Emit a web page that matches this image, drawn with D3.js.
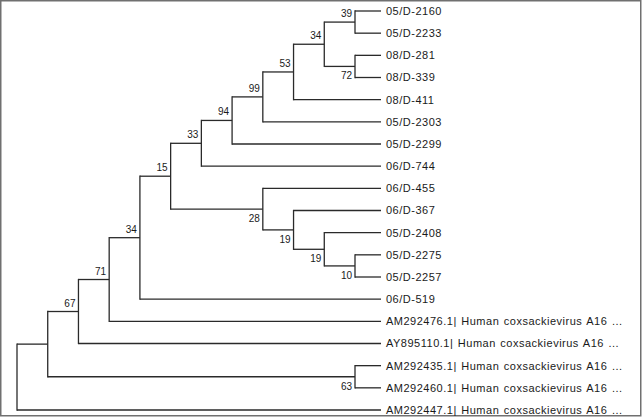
<!DOCTYPE html>
<html>
<head>
<meta charset="utf-8">
<script src="https://cdn.jsdelivr.net/npm/d3@7"></script>
<style>
  body { margin: 0; background: #fff; }
  text { font-family: "Liberation Sans", Arial, sans-serif; fill: #1a1a1a; }
</style>
</head>
<body>
<div id="container"></div>
<script>
// cladogram of CVA16 isolates with bootstrap values

// leaves, top to bottom, with the internal node they hang from
var leaves = ["05/D-2160", "05/D-2233", "08/D-281", "08/D-339", "08/D-411", "05/D-2303",
  "05/D-2299", "06/D-744", "06/D-455", "06/D-367", "05/D-2408", "05/D-2275", "05/D-2257",
  "06/D-519", "AM292476.1| Human coxsackievirus A16 ...", "AY895110.1| Human coxsackievirus A16 ...",
  "AM292435.1| Human coxsackievirus A16 ...", "AM292460.1| Human coxsackievirus A16 ...",
  "AM292447.1| Human coxsackievirus A16 ..."];
var leafParents = ["n39", "n39", "n72", "n72", "n53", "n99", "n94", "n33", "n28", "n19a",
  "n19b", "n10", "n10", "n34a", "n71", "n67", "n63", "n63", "root"];

// internal nodes, their parents and bootstrap support
var nodeIds     = ["root", "n1", "n67", "n71", "n34a", "n15", "n33", "n94", "n99", "n53", "n34b", "n39", "n72", "n28", "n19a", "n19b", "n10", "n63"];
var nodeParents = ["", "root", "n1", "n67", "n71", "n34a", "n15", "n33", "n94", "n99", "n53", "n34b", "n34b", "n15", "n28", "n19a", "n19b", "n1"];
var support     = [null, null, 67, 71, 34, 15, 33, 94, 99, 53, 34, 39, 72, 28, 19, 19, 10, 63];

var width = 642, height = 419;

var svg = d3.select("#container").append("svg")
    .attr("width", width)
    .attr("height", height);

// frame
svg.append("rect")
    .attr("x", 0.75).attr("y", 0.75)
    .attr("width", 640).attr("height", 415)
    .attr("fill", "none")
    .attr("stroke", "#707070")
    .attr("stroke-width", 1.5);

// build the table for stratify
var table = nodeIds.map(function(id, i) {
  return {id: id, parent: nodeParents[i] || null, support: support[i], leaf: false};
}).concat(leaves.map(function(name, i) {
  return {id: name, parent: leafParents[i], support: null, leaf: true, index: i};
}));

var root = d3.stratify()
    .id(function(d) { return d.id; })
    .parentId(function(d) { return d.parent; })(table);

// x from node height (cladogram), y from leaf order
var x = d3.scaleLinear().domain([root.height, 1]).range([17, 355]);
var leafX = x(1) + 26;
var y = d3.scalePoint().domain(leaves).range([11, 410]);

root.eachAfter(function(n) {
  if (!n.children) {
    n.px = leafX;
    n.py = y(n.id);
  } else {
    n.px = x(n.height);
    n.py = d3.mean(n.children, function(c) { return c.py; });
  }
});

var g = svg.append("g");

// horizontal branches
g.selectAll("line.h")
    .data(root.descendants().filter(function(n) { return n.parent; }))
  .enter().append("line")
    .attr("class", "h")
    .attr("x1", function(n) { return n.parent.px; })
    .attr("x2", function(n) { return n.px; })
    .attr("y1", function(n) { return n.py; })
    .attr("y2", function(n) { return n.py; })
    .attr("stroke", "#2a2a2a")
    .attr("stroke-width", 1.3);

// vertical connectors
g.selectAll("line.v")
    .data(root.descendants().filter(function(n) { return n.children; }))
  .enter().append("line")
    .attr("class", "v")
    .attr("x1", function(n) { return n.px; })
    .attr("x2", function(n) { return n.px; })
    .attr("y1", function(n) { return d3.min(n.children, function(c) { return c.py; }) - 0.65; })
    .attr("y2", function(n) { return d3.max(n.children, function(c) { return c.py; }) + 0.65; })
    .attr("stroke", "#2a2a2a")
    .attr("stroke-width", 1.3);

// leaf labels
g.selectAll("text.leaf")
    .data(root.leaves())
  .enter().append("text")
    .attr("class", "leaf")
    .attr("x", function(n) { return n.px + 5; })
    .attr("y", function(n) { return n.py; })
    .attr("dy", "0.36em")
    .style("font-size", "11px")
    .style("letter-spacing", "0.5px")
    .style("word-spacing", "1px")
    .text(function(n) { return n.id; });

// bootstrap values, above the stem for upper children, below for lower ones
g.selectAll("text.boot")
    .data(root.descendants().filter(function(n) { return n.data.support != null; }))
  .enter().append("text")
    .attr("class", "boot")
    .attr("x", function(n) { return n.px - 3; })
    .attr("y", function(n) { return n.py < n.parent.py ? n.py - 5 : n.py + 13; })
    .attr("text-anchor", "end")
    .style("font-size", "10px")
    .text(function(n) { return n.data.support; });
</script>
</body>
</html>
